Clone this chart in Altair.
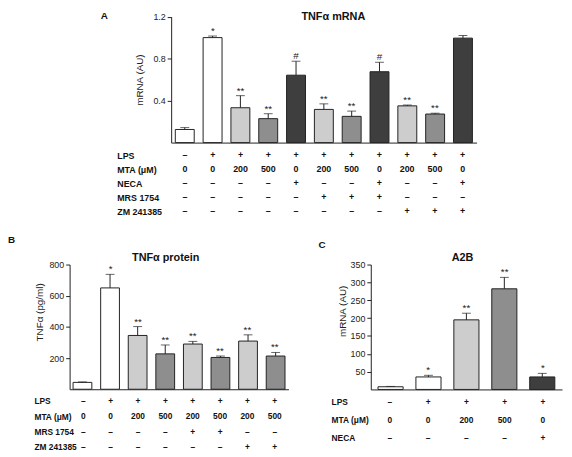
import altair as alt
import pandas as pd

FONT = "Liberation Sans"
INK = "#222222"

# ---------------- Panel A : TNFa mRNA ----------------
a_rows = ["LPS", "MTA (μM)", "NECA", "MRS 1754", "ZM 241385"]
a_lps = ["–", "+", "+", "+", "+", "+", "+", "+", "+", "+", "+"]
a_mta = ["0", "0", "200", "500", "0", "200", "500", "0", "200", "500", "0"]
a_neca = ["–", "–", "–", "–", "+", "–", "–", "+", "–", "–", "+"]
a_mrs = ["–", "–", "–", "–", "–", "+", "+", "+", "–", "–", "–"]
a_zm = ["–", "–", "–", "–", "–", "–", "–", "–", "+", "+", "+"]
a_mean = [0.125, 1.00, 0.332, 0.228, 0.642, 0.316, 0.250, 0.675, 0.350, 0.272, 0.995]
a_err = [0.018, 0.015, 0.115, 0.047, 0.133, 0.053, 0.050, 0.090, 0.008, 0.008, 0.025]
a_sig = ["", "*", "**", "**", "#", "**", "**", "#", "**", "**", ""]

# ---------------- Panel B : TNFa protein ----------------
b_rows = ["LPS", "MTA (μM)", "MRS 1754", "ZM 241385"]
b_lps = ["–", "+", "+", "+", "+", "+", "+", "+"]
b_mta = ["0", "0", "200", "500", "200", "500", "200", "500"]
b_mrs = ["–", "–", "–", "–", "+", "+", "–", "–"]
b_zm = ["–", "–", "–", "–", "–", "–", "+", "+"]
b_mean = [44, 650, 345, 227, 290, 204, 309, 213]
b_err = [3, 87, 57, 57, 17, 9, 40, 23]
b_sig = ["", "*", "**", "**", "**", "**", "**", "**"]

# ---------------- Panel C : A2B ----------------
c_rows = ["LPS", "MTA (μM)", "NECA"]
c_lps = ["–", "+", "+", "+", "+"]
c_mta = ["0", "0", "200", "500", "0"]
c_neca = ["–", "–", "–", "–", "+"]
c_mean = [7.5, 35, 195, 282, 35]
c_err = [1, 4.6, 18.6, 32, 10]
c_sig = ["", "*", "**", "**", "*"]

fill_domain = ["0", "200", "500", "NECA"]
fill_range = ["#ffffff", "#cdcdcd", "#8e8e8e", "#3e3e3e"]


def panel(key, rows, cols, mean, err, sig, neca, xr, pi, po, ydom, yr, yvals,
          ytitle, ytitle_y, xoff, yoff, rr, loff, lpad, tpad, tfs):
    n = len(mean)
    ids = [f"{key}{i}" for i in range(n)]
    mta = cols[1]
    group = [("NECA" if (neca is not None and neca[i] == "+") else mta[i]) for i in range(n)]
    df = pd.DataFrame({
        "id": ids,
        "mean": mean,
        "upper": [m + e for m, e in zip(mean, err)],
        "sig": sig,
        "group": group,
    })
    cells = pd.DataFrame([
        {"id": ids[i], "row": r, "val": col[i]}
        for r, col in zip(rows, cols) for i in range(n)
    ])
    xs = alt.Scale(domain=ids, range=xr, paddingInner=pi, paddingOuter=po)
    ys = alt.Scale(domain=ydom, range=yr, nice=False, zero=True)
    xn = alt.X("id:N", scale=xs, axis=None)

    yaxis_kw = dict(orient="left", offset=yoff, values=yvals, tickSize=4,
                    labelPadding=lpad, titlePadding=tpad, title=ytitle, grid=False)
    if ytitle_y is not None:
        yaxis_kw["titleY"] = ytitle_y

    bars = alt.Chart(df).mark_bar(stroke=INK, strokeWidth=1).encode(
        x=alt.X("id:N", scale=xs,
                axis=alt.Axis(orient="bottom", offset=xoff, labels=False, ticks=False,
                              title=None, grid=False)),
        y=alt.Y("mean:Q", scale=ys, axis=alt.Axis(**yaxis_kw)),
        fill=alt.Fill("group:N", scale=alt.Scale(domain=fill_domain, range=fill_range),
                      legend=None),
    )
    rule = alt.Chart(df).mark_rule(color=INK, strokeWidth=1).encode(
        x=xn, y=alt.Y("mean:Q", scale=ys, axis=None), y2="upper:Q")
    cap = alt.Chart(df).mark_tick(color=INK, thickness=1, size=9).encode(
        x=xn, y=alt.Y("upper:Q", scale=ys, axis=None))
    stars = alt.Chart(df).mark_text(baseline="alphabetic", dy=-2, fontSize=10,
                                    color=INK).encode(
        x=xn, y=alt.Y("upper:Q", scale=ys, axis=None), text="sig:N")
    table = alt.Chart(cells).mark_text(fontSize=tfs, fontWeight="bold", color="#111111").encode(
        x=xn,
        y=alt.Y("row:N",
                scale=alt.Scale(type="point", domain=rows, range=rr, padding=0),
                axis=alt.Axis(orient="left", offset=loff, domain=False, ticks=False,
                              tickSize=0, labelPadding=0, labelAlign="left",
                              labelFontWeight="bold", labelFontSize=tfs,
                              labelColor="#111111", title=None, grid=False)),
        text="val:N",
    )
    return [bars, rule, cap, stars, table]


H = 449
layers = []
layers += panel("a", a_rows, [a_lps, a_mta, a_neca, a_mrs, a_zm], a_mean, a_err, a_sig, a_neca,
                xr=[165.5, 475.3], pi=0.32, po=0.149, ydom=[0, 1.2], yr=[133.3, 5.5],
                yvals=[0.4, 0.8, 1.2], ytitle="mRNA (AU)", ytitle_y=None,
                xoff=133.3 - H, yoff=-165.5, rr=[146, 203], loff=-110.3, lpad=2, tpad=9,
                tfs=9)
layers += panel("b", b_rows, [b_lps, b_mta, b_mrs, b_zm], b_mean, b_err, b_sig, None,
                xr=[62.5, 284.5], pi=0.32, po=0.125, ydom=[0, 800], yr=[383.5, 257],
                yvals=[200, 400, 600, 800], ytitle="TNFα (pg/ml)", ytitle_y=305,
                xoff=383.5 - H, yoff=-62.5, rr=[395.3, 442], loff=-26.3, lpad=2, tpad=4,
                tfs=8.5)
layers += panel("c", c_rows, [c_lps, c_mta, c_neca], c_mean, c_err, c_sig, c_neca,
                xr=[368, 562], pi=0.338, po=0.19, ydom=[0, 350], yr=[383.7, 257],
                yvals=[50, 100, 150, 200, 250, 300, 350], ytitle="mRNA (AU)", ytitle_y=304,
                xoff=383.7 - H, yoff=-368, rr=[396, 433], loff=-327.7, lpad=2, tpad=3,
                tfs=8.5)


def label(text, x, y, size, align="center", baseline="middle"):
    return alt.Chart(pd.DataFrame({"t": [text]})).mark_text(
        fontSize=size, fontWeight="bold", color="#111111", align=align, baseline=baseline
    ).encode(x=alt.value(x), y=alt.value(y), text="t:N")


layers += [
    label("TNFα mRNA", 330, 0, 11, baseline="top"),
    label("TNFα protein", 160, 250, 11),
    label("A2B", 461, 250, 11),
    label("A", 94, 4.5, 10, align="left"),
    label("B", 0, 232, 10, align="left"),
    label("C", 315, 237, 10, align="left"),
]

chart = alt.layer(*layers).resolve_scale(
    x="independent", y="independent"
).properties(
    width=564, height=H, autosize=alt.AutoSizeParams(type="none"), padding=0
).configure_view(stroke=None).configure_axis(
    labelFont=FONT, titleFont=FONT, labelFontSize=9, labelColor=INK,
    titleFontSize=10, titleFontWeight="normal", titleColor=INK,
    domainColor=INK, tickColor=INK,
).configure_text(font=FONT)

chart.save("out.html", embed_options={"renderer": "svg", "actions": False})
